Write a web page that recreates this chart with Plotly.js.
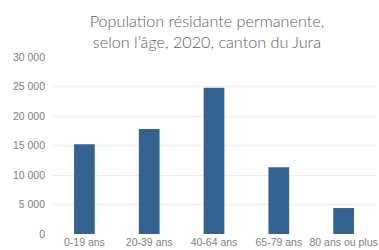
<!DOCTYPE html>
<html><head><meta charset="utf-8">
<script src="https://cdn.plot.ly/plotly-3.0.1.min.js"></script>
<style>html,body{margin:0;padding:0;background:#fff}#c{width:379px;height:250px}</style>
</head><body><div id="c"></div>
<script>
var categories = ["0-19 ans", "20-39 ans", "40-64 ans", "65-79 ans", "80 ans ou plus"];
var population = [15200, 17800, 24800, 11300, 4400];
var yTicks = [0, 5000, 10000, 15000, 20000, 25000, 30000];
var yTickLabels = ["0", "5 000", "10 000", "15 000", "20 000", "25 000", "30 000"];

Plotly.newPlot("c", [{
  type: "bar",
  x: categories,
  y: population,
  marker: {color: "#356391", line: {width: 0}},
  hoverinfo: "none"
}], {
  width: 379, height: 250,
  margin: {l: 52, r: 3, t: 57, b: 16},
  paper_bgcolor: "#fff", plot_bgcolor: "#fff",
  bargap: 0.68,
  showlegend: false,
  font: {family: "'Liberation Sans', Arial, sans-serif", color: "#808080", size: 10.5},
  title: {
    text: "Population résidante permanente,<br>selon l’âge, 2020, canton du Jura",
    font: {family: "Lato, 'Liberation Sans', sans-serif", size: 16.2, color: "#5c5c5c", weight: 300},
    xref: "container", x: 0.546, xanchor: "center",
    yref: "container", y: 0.892, yanchor: "middle"
  },
  xaxis: {
    showgrid: false, zeroline: false, showline: false,
    ticks: "", tickfont: {size: 10.5, color: "#808080"}, automargin: false
  },
  yaxis: {
    range: [0, 30000], tickvals: yTicks, ticktext: yTickLabels,
    showgrid: true, gridcolor: "#eeeeee", gridwidth: 1,
    zeroline: false, showline: false, ticks: "",
    tickfont: {size: 10.5, color: "#808080"}, ticklabelstandoff: 6, automargin: false
  }
}, {staticPlot: true, displayModeBar: false});
</script></body></html>
